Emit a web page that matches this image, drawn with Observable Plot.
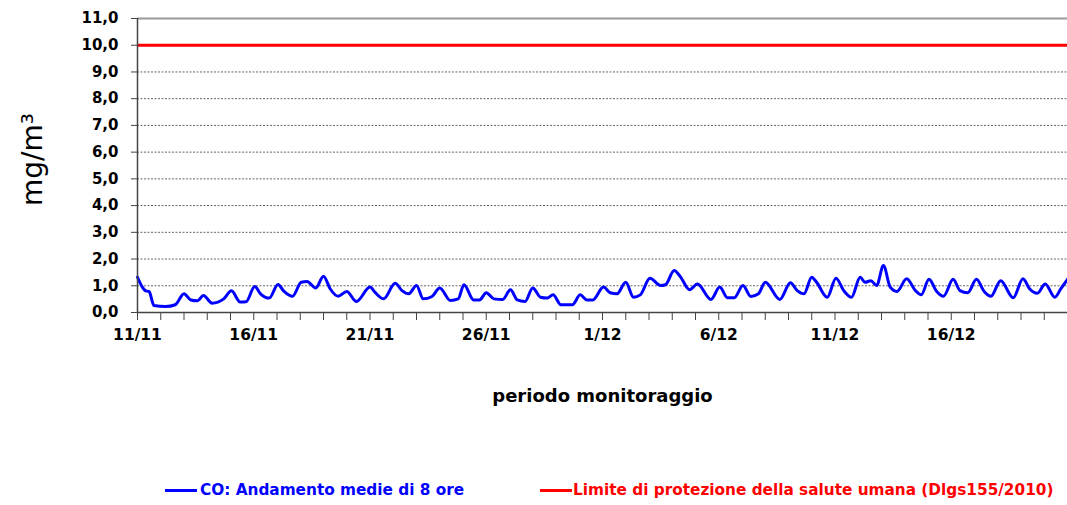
<!DOCTYPE html>
<html><head><meta charset="utf-8">
<script src="https://cdn.jsdelivr.net/npm/d3@7"></script>
<script src="https://cdn.jsdelivr.net/npm/@observablehq/plot@0.6"></script>
<style>
body{margin:0;background:#fff;width:1067px;height:505px;overflow:hidden;position:relative;font-family:"DejaVu Sans",sans-serif}
#chart{position:absolute;left:0;top:0}
.item{position:absolute;top:478px;font-weight:bold;font-size:15.3px;line-height:24px;white-space:nowrap}
.sw{position:absolute;top:11px;width:32px;height:3px}
</style></head><body>
<div id="chart"></div>
<div class="item" id="leg1" style="left:165px;color:#0000ff"><span class="sw" style="left:0;background:#0000ff"></span><span id="t1" style="margin-left:35px"></span></div>
<div class="item" id="leg2" style="left:540px;color:#ff0000"><span class="sw" style="left:0;background:#ff0000"></span><span id="t2" style="margin-left:33px"></span></div>
<script>
// hours since 11/11 00:00 and 8-hour mean CO (mg/m3)
const hours = [0,5,8,12,17,29,39,48,55,62,68,77,89,97,106,112,121,127,136,145,151,160,169,175,184,192,199,207,216,226,240,245,254,266,273,280,288,295,304,312,323,331,337,347,353,360,368,377,385,392,400,408,416,423,429,437,449,457,464,470,481,488,495,504,512,519,529,540,545,554,560,570,578,592,601,609,616,625,633,641,648,663,674,681,688,696,701,712,721,729,737,746,751,757,763,770,777,784,794,803,809,817,825,832,842,849,857,866,874,881,891,904,914,921,929,937,947,953,960];
const coValues = [1.32,0.95,0.82,0.78,0.26,0.22,0.29,0.70,0.47,0.44,0.64,0.35,0.51,0.81,0.39,0.40,0.97,0.70,0.54,1.05,0.80,0.61,1.13,1.16,0.92,1.36,0.88,0.61,0.79,0.41,0.95,0.76,0.51,1.09,0.82,0.70,1.01,0.51,0.60,0.92,0.45,0.51,1.04,0.47,0.47,0.74,0.51,0.49,0.85,0.47,0.41,0.92,0.57,0.54,0.66,0.29,0.29,0.66,0.47,0.47,0.95,0.74,0.70,1.13,0.57,0.66,1.28,1.01,1.04,1.57,1.36,0.85,1.07,0.49,0.95,0.55,0.55,1.01,0.60,0.70,1.13,0.49,1.11,0.82,0.70,1.32,1.13,0.57,1.28,0.82,0.57,1.32,1.13,1.19,1.01,1.76,0.95,0.79,1.26,0.82,0.66,1.24,0.79,0.61,1.24,0.82,0.74,1.24,0.79,0.61,1.19,0.55,1.26,0.88,0.72,1.07,0.57,0.88,1.24];
const limitValue = 10;
const yTicks = [0,1,2,3,4,5,6,7,8,9,10,11];
const xTickLabels = ["11/11","16/11","21/11","26/11","1/12","6/12","11/12","16/12"];
const year = 2011;
const startLabel = "11/11", endLabel = "21/12";
const legendLabels = ["CO: Andamento medie di 8 ore","Limite di protezione della salute umana (Dlgs155/2010)"];
const yLabel = "mg/m³";
const xLabel = "periodo monitoraggio";

const parseLabel = s => { const [d, m] = s.split("/").map(Number); return new Date(Date.UTC(year, m - 1, d)); };
const start = parseLabel(startLabel), end = parseLabel(endLabel);
const data = hours.map((h, i) => ({date: new Date(+start + h * 3600e3), value: coValues[i]}));
const tickDates = xTickLabels.map(parseLabel);
const labelMap = new Map(xTickLabels.map(s => [+parseLabel(s), s]));
const dayTicks = d3.utcDay.range(start, end);

const chart = Plot.plot({
  width: 1067, height: 460,
  marginLeft: 137, marginRight: 0, marginTop: 18, marginBottom: 148,
  style: {fontFamily: "DejaVu Sans, sans-serif", background: "#fff", color: "#000"},
  x: {type: "utc", domain: [start, end]},
  y: {domain: [0, 11]},
  marks: [
    Plot.ruleY(yTicks.filter(v => v > 0 && v < 11), {stroke: "#666", strokeWidth: 1, strokeDasharray: "2,1.5"}),
    Plot.ruleY([11], {stroke: "#999", strokeWidth: 2}),
    Plot.ruleY([limitValue], {stroke: "#ff0000", strokeWidth: 3}),
    Plot.line(data, {x: "date", y: "value", stroke: "#0000ff", strokeWidth: 3, curve: "monotone-x"}),
    Plot.ruleY([0], {stroke: "#444", strokeWidth: 1.5}),
    Plot.ruleX([start], {stroke: "#444", strokeWidth: 1.5}),
    Plot.axisY({ticks: yTicks, tickFormat: d => d.toFixed(1).replace(".", ","), tickSize: 6, tickPadding: 13, fontSize: 15, fontWeight: "bold", stroke: "#444", label: null}),
    Plot.axisX({ticks: dayTicks, tickFormat: () => "", tickSize: 8, stroke: "#444", label: null}),
    Plot.axisX({ticks: tickDates, tickFormat: d => labelMap.get(+d), tickSize: 0, tickPadding: 16, fontSize: 15.5, fontWeight: "bold", label: null}),
    Plot.text([yLabel], {frameAnchor: "left", dx: -104, dy: -6, rotate: -90, textAnchor: "middle", lineAnchor: "middle", fontSize: 28, fill: "#000"}),
    Plot.text([xLabel], {frameAnchor: "bottom", dy: 84, lineAnchor: "middle", fontSize: 18, fontWeight: "bold", fill: "#000"})
  ]
});
document.getElementById("chart").append(chart);
document.getElementById("t1").textContent = legendLabels[0];
document.getElementById("t2").textContent = legendLabels[1];
</script>
</body></html>
